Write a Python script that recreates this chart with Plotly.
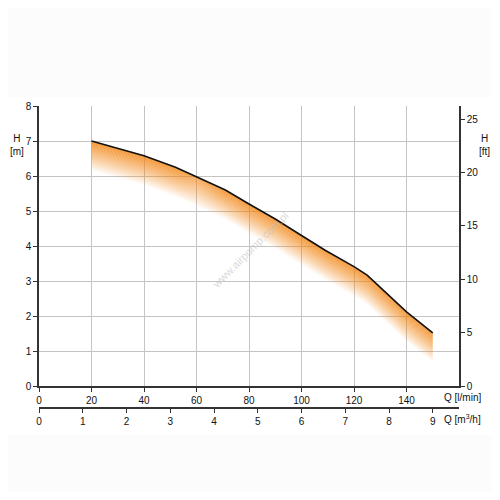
import plotly.graph_objects as go

# Data
Q_lmin = [20, 30, 40, 52, 60, 71, 80, 90, 100, 109, 120, 125, 130, 140, 150]
H_m = [7.0, 6.8, 6.58, 6.25, 5.98, 5.6, 5.2, 4.77, 4.3, 3.88, 3.41, 3.17, 2.82, 2.12, 1.52]
x_ticks_lmin = [0, 20, 40, 60, 80, 100, 120, 140]
x_ticks_m3h = [0, 1, 2, 3, 4, 5, 6, 7, 8, 9]
y_ticks_m = [0, 1, 2, 3, 4, 5, 6, 7, 8]
y_ticks_ft = [0, 5, 10, 15, 20, 25]
grid_m = [1, 2, 3, 4, 5, 6, 7]

Q_MAX = 160
H_MAX = 8
FT_PER_M = 1 / 0.3048
M3H_PER_LMIN = 0.06

BAND = 0.85
N = 34
ORANGE = (242, 134, 20)
FONT = "Liberation Sans"

fig = go.Figure()

# gradient band under the curve
for i in range(N):
    t0 = i / N
    t1 = (i + 1) / N
    upper = [h - BAND * t0 for h in H_m]
    lower = [h - BAND * t1 for h in H_m]
    a = (1 - (t0 + t1) / 2) ** 1.0
    fig.add_trace(go.Scatter(
        x=Q_lmin + Q_lmin[::-1], y=upper + lower[::-1],
        fill="toself", mode="lines", line=dict(width=0),
        fillcolor=f"rgba({ORANGE[0]},{ORANGE[1]},{ORANGE[2]},{a:.3f})",
        hoverinfo="skip", showlegend=False, xaxis="x", yaxis="y"))

# curve
fig.add_trace(go.Scatter(x=Q_lmin, y=H_m, mode="lines",
                         line=dict(color="#111111", width=1.6),
                         showlegend=False, xaxis="x", yaxis="y"))

# invisible traces for the extra axes
for xa, ya in (("x", "y2"), ("x", "y3"), ("x2", "y")):
    fig.add_trace(go.Scatter(x=[0], y=[0], mode="markers", marker=dict(opacity=0),
                             showlegend=False, hoverinfo="skip", xaxis=xa, yaxis=ya))

OFF = 8  # page body margin
W, Hh = 500 - 2 * OFF, 500 - 2 * OFF
mt, ml = 106 - OFF, 39 - OFF
mr = W - (459 - OFF)
mb = Hh - (408 - OFF)
plot_h = Hh - mt - mb
plot_w = W - ml - mr
ydom0 = 22 / plot_h

axis_common = dict(showline=True, linecolor="#333333", linewidth=1.5,
                   ticks="outside", ticklen=4, tickcolor="#333333", tickwidth=1.2,
                   tickfont=dict(family=FONT, size=10, color="#111111"),
                   zeroline=False, automargin=False)

fig.update_layout(
    width=W, height=Hh,
    margin=dict(l=ml, r=mr, t=mt, b=mb, autoexpand=False),
    paper_bgcolor="#fcfcfc",
    plot_bgcolor="rgba(0,0,0,0)",
    showlegend=False,
    xaxis=dict(range=[0, Q_MAX], tickvals=x_ticks_lmin, showgrid=True,
               gridcolor="#c4c4c4", gridwidth=1, anchor="y", **axis_common),
    xaxis2=dict(range=[0, Q_MAX * M3H_PER_LMIN], tickvals=x_ticks_m3h, showgrid=False,
                anchor="free", position=0, overlaying="x", side="bottom", **axis_common),
    yaxis=dict(range=[0, H_MAX], tickvals=y_ticks_m, showgrid=False,
               domain=[ydom0, 1], anchor="x", **axis_common),
    yaxis2=dict(range=[0, H_MAX * FT_PER_M], tickvals=y_ticks_ft, showgrid=False,
                overlaying="y", side="right", anchor="x", **axis_common),
    yaxis3=dict(range=[0, H_MAX], tickvals=grid_m, showgrid=True, gridcolor="#c4c4c4",
                gridwidth=1, showticklabels=False, ticks="", showline=False,
                zeroline=False, overlaying="y", anchor="x", side="left",
                automargin=False),
)


def px(xp):
    return (xp - OFF - ml) / plot_w


def py(yp):
    return (Hh - mb - (yp - OFF)) / plot_h


# white background panel for chart region
fig.add_shape(type="rect", xref="paper", yref="paper", x0=-1, x1=2,
              y0=py(435), y1=py(97),
              fillcolor="white", line=dict(width=0), layer="below")

ann_font = dict(family=FONT, size=10, color="#111111")
common = dict(xref="paper", yref="paper", showarrow=False, yanchor="middle")
fig.add_annotation(text="H<br>[m]", x=px(8), y=py(145), xanchor="left",
                   font=ann_font, align="center", **common)
fig.add_annotation(text="H<br>[ft]", x=px(492), y=py(145), xanchor="right",
                   font=ann_font, align="center", **common)
fig.add_annotation(text="Q [l/min]", x=px(442), y=py(397), xanchor="left",
                   font=ann_font, **common)
fig.add_annotation(text="Q [m<sup>3</sup>/h]", x=px(442), y=py(419), xanchor="left",
                   font=ann_font, **common)
fig.add_annotation(text="www.airpomp.com.pl", x=px(250), y=py(250), xanchor="center",
                   textangle=-45,
                   font=dict(family=FONT, size=11, color="rgba(190,190,190,0.6)"), **common)

fig.write_html("out.html")
